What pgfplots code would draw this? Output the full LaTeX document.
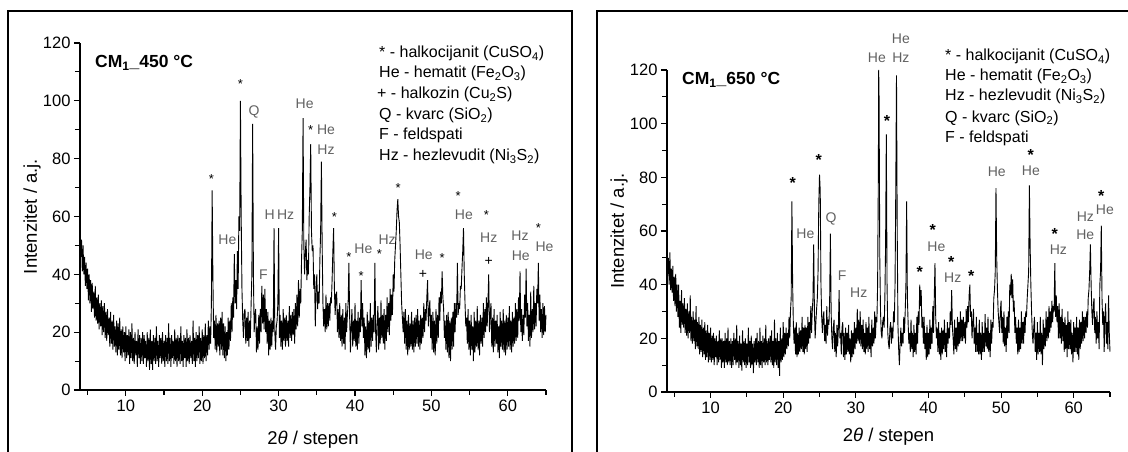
\documentclass[border=0pt]{standalone}
\usepackage{fontspec}
\setmainfont{Liberation Sans}
\usepackage{pgfplots}
\pgfplotsset{compat=1.18}
\pgfplotsset{xrd/.style={
  scale only axis, axis lines*=left,
  xmin=4, xmax=65, ymin=0, ymax=120, enlargelimits=false,
  xtick={10,20,...,60}, minor xtick={5,15,...,65},
  ytick={0,20,...,120}, minor ytick={10,30,...,110},
  tick align=outside, major tick length=6pt, minor tick length=5pt,
  every tick/.style={black, line width=1.1pt},
  every minor tick/.style={black, line width=1.1pt},
  axis line style={line width=1.4pt},
  tick label style={font=\fontsize{16.5}{16.5}\selectfont},
  /pgf/number format/assume math mode=true,
  label style={font=\fontsize{18.5}{18.5}\selectfont},
  xlabel={2\textit{θ} / stepen}, ylabel={Intenzitet / a.j.},
  clip=false}}
\tikzset{
  an/.style={text=black!62, font=\fontsize{14}{14}\selectfont, inner sep=0},
  sl/.style={text=black, font=\fontsize{13}{13}\selectfont, inner sep=0, yshift=-3pt},
  sr/.style={text=black, font=\bfseries\fontsize{16}{16}\selectfont, inner sep=0, yshift=-3pt},
  dat/.style={black, line width=0.9pt, line join=bevel},
}
\pgfplotstableset{col sep=space}
\begin{document}
\begin{tikzpicture}[x=1pt,y=1pt]
\path[use as bounding box] (0,0) rectangle (1128,452);
\draw[line width=1.2pt] (8,-3) -- (8,441) -- (572,441) -- (572,-3);
\draw[line width=1.2pt] (597,-3) -- (597,441) -- (1132,441);

\begin{axis}[xrd, at={(80pt,62pt)}, anchor=south west, width=466pt, height=347pt,
  xlabel style={at={(axis description cs:0.5,-0.144)}, anchor=center},
  ylabel style={at={(axis description cs:-0.103,0.5)}, anchor=center}]
\addplot[dat] coordinates {
(4.0,56)(4.1,46)(4.2,52)(4.3,41)(4.4,50)(4.5,40)(4.6,46)(4.7,36)(4.8,44)(4.9,35)
(5.0,42)(5.1,31)(5.2,40)(5.3,30)(5.4,38)(5.5,27)(5.6,37)(5.7,28)(5.8,34)(5.9,25)
(6.0,36)(6.1,24)(6.2,32)(6.3,23)(6.4,33)(6.5,21)(6.6,30)(6.7,22)(6.8,31)(6.9,19)
(7.0,29)(7.1,20)(7.2,30)(7.3,18)(7.4,27)(7.5,17)(7.6,28)(7.7,19)(7.8,25)(7.9,15)
(8.0,27)(8.1,16)(8.2,24)(8.3,14)(8.4,26)(8.5,15)(8.6,22)(8.7,13)(8.8,24)(8.9,12)
(9.0,23)(9.1,14)(9.2,25)(9.3,12)(9.4,21)(9.5,11)(9.6,22)(9.7,13)(9.8,20)(9.9,10)
(10.0,22)(10.1,11)(10.2,19)(10.3,12)(10.4,21)(10.5,9)(10.6,20)(10.7,11)(10.8,23)(10.9,10)
(11.0,18)(11.1,9)(11.2,20)(11.3,12)(11.4,17)(11.5,8)(11.6,21)(11.7,11)(11.8,19)(11.9,9)
(12.0,18)(12.1,10)(12.2,20)(12.3,9)(12.4,19)(12.5,11)(12.6,17)(12.7,8)(12.8,20)(12.9,10)
(13.0,18)(13.1,7)(13.2,21)(13.3,9)(13.4,17)(13.5,7)(13.6,19)(13.7,10)(13.8,18)(13.9,9)
(14.0,22)(14.1,10)(14.2,17)(14.3,8)(14.4,19)(14.5,11)(14.6,18)(14.7,9)(14.8,20)(14.9,10)
(15.0,17)(15.1,8)(15.2,19)(15.3,10)(15.4,18)(15.5,9)(15.6,23)(15.7,10)(15.8,18)(15.9,8)
(16.0,19)(16.1,11)(16.2,17)(16.3,9)(16.4,21)(16.5,10)(16.6,18)(16.7,8)(16.8,19)(16.9,10)
(17.0,18)(17.1,9)(17.2,22)(17.3,10)(17.4,17)(17.5,8)(17.6,19)(17.7,11)(17.8,18)(17.9,8)
(18.0,21)(18.1,10)(18.2,18)(18.3,9)(18.4,19)(18.5,11)(18.6,17)(18.7,9)(18.8,24)(18.9,10)
(19.0,18)(19.1,8)(19.2,20)(19.3,10)(19.4,19)(19.5,11)(19.6,22)(19.7,9)(19.8,18)(19.9,10)
(20.0,21)(20.1,9)(20.2,19)(20.3,11)(20.4,23)(20.5,10)(20.6,19)(20.7,12)(20.8,24)(20.9,14)
(21.0,22)(21.1,16)(21.2,30)(21.3,69)(21.4,38)(21.5,18)(21.6,24)(21.7,14)(21.8,26)(21.9,13)
(22.0,23)(22.1,15)(22.2,24)(22.3,12)(22.4,25)(22.5,14)(22.6,27)(22.7,12)(22.8,23)(22.9,11)
(23.0,22)(23.1,10)(23.2,20)(23.3,12)(23.4,25)(23.5,14)(23.6,24)(23.7,17)(23.8,30)(23.9,20)
(24.0,32)(24.1,25)(24.2,47)(24.3,30)(24.4,38)(24.5,28)(24.6,48)(24.7,35)(24.8,60)(24.9,55)
(25.0,100)(25.1,60)(25.2,35)(25.3,24)(25.4,18)(25.5,27)(25.6,28)(25.7,16)(25.8,25)(25.9,17)
(26.0,27)(26.1,15)(26.2,24)(26.3,18)(26.4,30)(26.5,40)(26.6,92)(26.7,40)(26.8,20)(26.9,26)
(27.0,28)(27.1,13)(27.2,22)(27.3,14)(27.4,26)(27.5,16)(27.6,28)(27.7,20)(27.8,36)(27.9,23)
(28.0,33)(28.1,21)(28.2,35)(28.3,20)(28.4,28)(28.5,16)(28.6,27)(28.7,12)(28.8,24)(28.9,14)
(29.0,25)(29.1,15)(29.2,24)(29.3,20)(29.4,56)(29.5,20)(29.6,14)(29.7,22)(29.8,24)(29.9,30)
(30.0,56)(30.1,18)(30.2,26)(30.3,15)(30.4,24)(30.5,14)(30.6,28)(30.7,17)(30.8,25)(30.9,15)
(31.0,26)(31.1,17)(31.2,24)(31.3,15)(31.4,29)(31.5,18)(31.6,26)(31.7,17)(31.8,27)(31.9,19)
(32.0,28)(32.1,16)(32.2,30)(32.3,21)(32.4,33)(32.5,22)(32.6,38)(32.7,25)(32.8,35)(32.9,30)
(33.0,45)(33.1,55)(33.2,94)(33.3,50)(33.4,40)(33.5,48)(33.6,52)(33.7,38)(33.8,45)(33.9,40)
(34.0,60)(34.1,70)(34.2,85)(34.3,55)(34.4,48)(34.5,50)(34.6,35)(34.7,40)(34.8,22)(34.9,35)
(35.0,40)(35.1,28)(35.2,34)(35.3,30)(35.4,45)(35.5,55)(35.6,79)(35.7,50)(35.8,30)(35.9,22)
(36.0,28)(36.1,20)(36.2,33)(36.3,21)(36.4,30)(36.5,22)(36.6,30)(36.7,24)(36.8,32)(36.9,30)
(37.0,38)(37.1,48)(37.2,56)(37.3,35)(37.4,26)(37.5,33)(37.6,34)(37.7,20)(37.8,28)(37.9,18)
(38.0,30)(38.1,17)(38.2,26)(38.3,15)(38.4,28)(38.5,16)(38.6,25)(38.7,14)(38.8,30)(38.9,20)
(39.0,26)(39.1,30)(39.2,44)(39.3,25)(39.4,13)(39.5,22)(39.6,28)(39.7,15)(39.8,24)(39.9,17)
(40.0,30)(40.1,15)(40.2,24)(40.3,14)(40.4,27)(40.5,16)(40.6,25)(40.7,20)(40.8,38)(40.9,22)
(41.0,30)(41.1,18)(41.2,25)(41.3,12)(41.4,22)(41.5,11)(41.6,27)(41.7,14)(41.8,24)(41.9,13)
(42.0,30)(42.1,15)(42.2,25)(42.3,17)(42.4,26)(42.5,20)(42.6,44)(42.7,20)(42.8,13)(42.9,24)
(43.0,29)(43.1,14)(43.2,25)(43.3,16)(43.4,31)(43.5,18)(43.6,26)(43.7,16)(43.8,28)(43.9,14)
(44.0,26)(44.1,17)(44.2,32)(44.3,20)(44.4,30)(44.5,19)(44.6,35)(44.7,24)(44.8,33)(44.9,26)
(45.0,40)(45.1,34)(45.2,45)(45.3,50)(45.4,55)(45.5,62)(45.6,66)(45.7,60)(45.8,58)(45.9,50)
(46.0,40)(46.1,30)(46.2,25)(46.3,20)(46.4,27)(46.5,16)(46.6,28)(46.7,14)(46.8,24)(46.9,12)
(47.0,26)(47.1,14)(47.2,23)(47.3,15)(47.4,27)(47.5,14)(47.6,24)(47.7,13)(47.8,25)(47.9,15)
(48.0,26)(48.1,16)(48.2,28)(48.3,15)(48.4,24)(48.5,14)(48.6,26)(48.7,16)(48.8,25)(48.9,18)
(49.0,30)(49.1,20)(49.2,28)(49.3,24)(49.4,32)(49.5,38)(49.6,22)(49.7,28)(49.8,31)(49.9,18)
(50.0,26)(50.1,14)(50.2,27)(50.3,13)(50.4,24)(50.5,12)(50.6,28)(50.7,16)(50.8,26)(50.9,18)
(51.0,32)(51.1,24)(51.2,34)(51.3,30)(51.4,41)(51.5,32)(51.6,28)(51.7,18)(51.8,24)(51.9,14)
(52.0,26)(52.1,13)(52.2,27)(52.3,11)(52.4,24)(52.5,10)(52.6,25)(52.7,14)(52.8,27)(52.9,15)
(53.0,30)(53.1,20)(53.2,30)(53.3,25)(53.4,44)(53.5,26)(53.6,30)(53.7,28)(53.8,36)(53.9,35)
(54.0,42)(54.1,48)(54.2,56)(54.3,40)(54.4,30)(54.5,22)(54.6,25)(54.7,16)(54.8,28)(54.9,14)
(55.0,24)(55.1,12)(55.2,26)(55.3,14)(55.4,22)(55.5,10)(55.6,27)(55.7,13)(55.8,24)(55.9,15)
(56.0,29)(56.1,14)(56.2,24)(56.3,12)(56.4,26)(56.5,16)(56.6,25)(56.7,15)(56.8,30)(56.9,18)
(57.0,28)(57.1,20)(57.2,32)(57.3,22)(57.4,30)(57.5,40)(57.6,20)(57.7,26)(57.8,30)(57.9,15)
(58.0,25)(58.1,13)(58.2,28)(58.3,15)(58.4,24)(58.5,16)(58.6,26)(58.7,13)(58.8,22)(58.9,11)
(59.0,27)(59.1,15)(59.2,24)(59.3,14)(59.4,28)(59.5,13)(59.6,24)(59.7,12)(59.8,26)(59.9,14)
(60.0,25)(60.1,15)(60.2,29)(60.3,14)(60.4,24)(60.5,13)(60.6,27)(60.7,15)(60.8,25)(60.9,16)
(61.0,30)(61.1,17)(61.2,28)(61.3,18)(61.4,32)(61.5,24)(61.6,41)(61.7,20)(61.8,28)(61.9,17)
(62.0,26)(62.1,19)(62.2,33)(62.3,25)(62.4,42)(62.5,22)(62.6,30)(62.7,17)(62.8,26)(62.9,15)
(63.0,34)(63.1,18)(63.2,28)(63.3,20)(63.4,36)(63.5,21)(63.6,30)(63.7,22)(63.8,35)(63.9,30)
(64.0,44)(64.1,24)(64.2,33)(64.3,20)(64.4,28)(64.5,18)(64.6,30)(64.7,19)(64.8,29)(64.9,20)
(65.0,26)
};
\node[sl] at (axis cs:21.2,74) {*};
\node[an] at (axis cs:23.3,52) {He};
\node[sl] at (axis cs:25.0,107) {*};
\node[an] at (axis cs:26.8,96) {Q};
\node[an] at (axis cs:28.0,40) {F};
\node[an] at (axis cs:30.1,60.5) {H\,Hz};
\node[an] at (axis cs:33.4,99) {He};
\node[sl] at (axis cs:34.2,91) {*};
\node[an] at (axis cs:36.2,90) {He};
\node[an] at (axis cs:36.2,83) {Hz};
\node[sl] at (axis cs:37.3,61) {*};
\node[sl] at (axis cs:39.2,47) {*};
\node[an] at (axis cs:41.1,49) {He};
\node[sl] at (axis cs:40.8,40.5) {*};
\node[sl] at (axis cs:43.2,48) {*};
\node[an] at (axis cs:44.2,52) {Hz};
\node[sl] at (axis cs:45.65,71) {*};
\node[an] at (axis cs:49.0,46.7) {He};
\node[an, text=black] at (axis cs:48.9,40) {+};
\node[sl] at (axis cs:51.4,46.7) {*};
\node[sl] at (axis cs:53.5,68) {*};
\node[an] at (axis cs:54.25,60.5) {He};
\node[sl] at (axis cs:57.2,61.6) {*};
\node[an] at (axis cs:57.5,52.6) {Hz};
\node[an, text=black] at (axis cs:57.5,44.6) {+};
\node[an] at (axis cs:61.6,53.5) {Hz};
\node[an] at (axis cs:61.7,46.5) {He};
\node[sl] at (axis cs:64.0,57) {*};
\node[an] at (axis cs:64.8,49.5) {He};
\end{axis}

\begin{axis}[xrd, at={(667pt,60pt)}, anchor=south west, width=443pt, height=322pt,
  xlabel style={at={(axis description cs:0.5,-0.140)}, anchor=center},
  ylabel style={at={(axis description cs:-0.108,0.5)}, anchor=center}]
\addplot[dat] coordinates {
(4.0,58)(4.1,44)(4.2,50)(4.3,40)(4.4,52)(4.5,38)(4.6,46)(4.7,37)(4.8,47)(4.9,34)
(5.0,43)(5.1,32)(5.2,44)(5.3,30)(5.4,40)(5.5,28)(5.6,40)(5.7,24)(5.8,34)(5.9,22)
(6.0,38)(6.1,25)(6.2,33)(6.3,24)(6.4,35)(6.5,22)(6.6,31)(6.7,21)(6.8,33)(6.9,20)
(7.0,30)(7.1,22)(7.2,36)(7.3,19)(7.4,28)(7.5,18)(7.6,30)(7.7,19)(7.8,27)(7.9,16)
(8.0,32)(8.1,17)(8.2,26)(8.3,16)(8.4,28)(8.5,14)(8.6,25)(8.7,15)(8.8,27)(8.9,13)
(9.0,24)(9.1,14)(9.2,26)(9.3,12)(9.4,23)(9.5,13)(9.6,25)(9.7,11)(9.8,22)(9.9,12)
(10.0,24)(10.1,11)(10.2,21)(10.3,12)(10.4,22)(10.5,10)(10.6,20)(10.7,13)(10.8,21)(10.9,10)
(11.0,19)(11.1,11)(11.2,23)(11.3,12)(11.4,20)(11.5,9)(11.6,20)(11.7,11)(11.8,19)(11.9,9)
(12.0,22)(12.1,11)(12.2,20)(12.3,10)(12.4,24)(12.5,11)(12.6,19)(12.7,10)(12.8,20)(12.9,9)
(13.0,19)(13.1,10)(13.2,22)(13.3,12)(13.4,20)(13.5,10)(13.6,25)(13.7,11)(13.8,19)(13.9,9)
(14.0,21)(14.1,10)(14.2,18)(14.3,8)(14.4,23)(14.5,11)(14.6,19)(14.7,10)(14.8,20)(14.9,9)
(15.0,18)(15.1,10)(15.2,24)(15.3,11)(15.4,19)(15.5,9)(15.6,21)(15.7,10)(15.8,18)(15.9,7)
(16.0,19)(16.1,11)(16.2,20)(16.3,10)(16.4,22)(16.5,11)(16.6,19)(16.7,9)(16.8,24)(16.9,10)
(17.0,19)(17.1,9)(17.2,21)(17.3,11)(17.4,20)(17.5,10)(17.6,25)(17.7,11)(17.8,19)(17.9,10)
(18.0,20)(18.1,12)(18.2,21)(18.3,11)(18.4,23)(18.5,10)(18.6,19)(18.7,9)(18.8,27)(18.9,11)
(19.0,20)(19.1,10)(19.2,22)(19.3,9)(19.4,19)(19.5,6)(19.6,24)(19.7,11)(19.8,20)(19.9,12)
(20.0,26)(20.1,13)(20.2,22)(20.3,14)(20.4,24)(20.5,16)(20.6,22)(20.7,17)(20.8,28)(20.9,20)
(21.0,30)(21.1,35)(21.2,71)(21.3,40)(21.4,25)(21.5,18)(21.6,24)(21.7,14)(21.8,26)(21.9,13)
(22.0,22)(22.1,14)(22.2,24)(22.3,15)(22.4,23)(22.5,16)(22.6,28)(22.7,15)(22.8,24)(22.9,14)
(23.0,25)(23.1,16)(23.2,24)(23.3,15)(23.4,28)(23.5,18)(23.6,26)(23.7,20)(23.8,32)(23.9,22)
(24.0,30)(24.1,35)(24.2,55)(24.3,30)(24.4,20)(24.5,26)(24.6,31)(24.7,35)(24.8,45)(24.9,70)
(25.0,81)(25.1,75)(25.2,40)(25.3,28)(25.4,22)(25.5,28)(25.6,30)(25.7,19)(25.8,25)(25.9,18)
(26.0,32)(26.1,21)(26.2,27)(26.3,25)(26.4,35)(26.5,59)(26.6,30)(26.7,20)(26.8,16)(26.9,24)
(27.0,27)(27.1,15)(27.2,22)(27.3,13)(27.4,25)(27.5,17)(27.6,24)(27.7,38)(27.8,20)(27.9,22)
(28.0,14)(28.1,24)(28.2,26)(28.3,13)(28.4,22)(28.5,12)(28.6,24)(28.7,14)(28.8,22)(28.9,15)
(29.0,25)(29.1,14)(29.2,20)(29.3,11)(29.4,23)(29.5,13)(29.6,22)(29.7,14)(29.8,26)(29.9,16)
(30.0,24)(30.1,18)(30.2,31)(30.3,19)(30.4,27)(30.5,18)(30.6,30)(30.7,17)(30.8,25)(30.9,16)
(31.0,27)(31.1,15)(31.2,22)(31.3,14)(31.4,26)(31.5,16)(31.6,24)(31.7,15)(31.8,28)(31.9,16)
(32.0,22)(32.1,13)(32.2,27)(32.3,17)(32.4,24)(32.5,18)(32.6,30)(32.7,20)(32.8,28)(32.9,26)
(33.0,40)(33.1,80)(33.15,120)(33.2,110)(33.3,50)(33.4,30)(33.5,22)(33.6,20)(33.7,26)(33.8,28)(33.9,24)
(34.0,35)(34.1,55)(34.2,96)(34.3,40)(34.4,22)(34.5,18)(34.6,16)(34.7,24)(34.8,26)(34.9,18)
(35.0,24)(35.1,20)(35.2,30)(35.3,26)(35.4,40)(35.5,75)(35.6,118)(35.7,60)(35.8,25)(35.9,16)
(36.0,10)(36.1,18)(36.2,24)(36.3,17)(36.4,22)(36.5,18)(36.6,28)(36.7,22)(36.8,30)(36.9,40)
(37.0,71)(37.1,35)(37.2,26)(37.3,18)(37.4,22)(37.5,15)(37.6,27)(37.7,16)(37.8,22)(37.9,13)
(38.0,25)(38.1,15)(38.2,22)(38.3,14)(38.4,28)(38.5,18)(38.6,30)(38.7,25)(38.8,40)(38.9,32)
(39.0,38)(39.1,24)(39.2,28)(39.3,18)(39.4,28)(39.5,16)(39.6,22)(39.7,12)(39.8,25)(39.9,13)
(40.0,22)(40.1,14)(40.2,27)(40.3,16)(40.4,24)(40.5,18)(40.6,32)(40.7,22)(40.8,35)(40.9,48)
(41.0,28)(41.1,20)(41.2,24)(41.3,15)(41.4,26)(41.5,14)(41.6,22)(41.7,12)(41.8,24)(41.9,14)
(42.0,23)(42.1,16)(42.2,27)(42.3,15)(42.4,22)(42.5,13)(42.6,26)(42.7,18)(42.8,24)(42.9,20)
(43.0,30)(43.1,25)(43.2,38)(43.3,24)(43.4,20)(43.5,14)(43.6,27)(43.7,16)(43.8,24)(43.9,15)
(44.0,28)(44.1,17)(44.2,26)(44.3,18)(44.4,30)(44.5,19)(44.6,27)(44.7,19)(44.8,28)(44.9,20)
(45.0,26)(45.1,18)(45.2,31)(45.3,24)(45.4,32)(45.5,26)(45.6,36)(45.7,40)(45.8,28)(45.9,30)
(46.0,20)(46.1,26)(46.2,31)(46.3,18)(46.4,24)(46.5,15)(46.6,28)(46.7,15)(46.8,22)(46.9,14)
(47.0,27)(47.1,14)(47.2,22)(47.3,12)(47.4,26)(47.5,15)(47.6,22)(47.7,15)(47.8,29)(47.9,17)
(48.0,24)(48.1,16)(48.2,28)(48.3,15)(48.4,22)(48.5,13)(48.6,27)(48.7,18)(48.8,26)(48.9,24)
(49.0,35)(49.1,38)(49.2,45)(49.3,76)(49.4,50)(49.5,38)(49.6,30)(49.7,26)(49.8,22)(49.9,30)
(50.0,34)(50.1,22)(50.2,28)(50.3,18)(50.4,30)(50.5,17)(50.6,24)(50.7,15)(50.8,28)(50.9,20)
(51.0,30)(51.1,22)(51.2,40)(51.3,36)(51.4,44)(51.5,35)(51.6,42)(51.7,30)(51.8,34)(51.9,22)
(52.0,28)(52.1,18)(52.2,24)(52.3,14)(52.4,27)(52.5,15)(52.6,24)(52.7,16)(52.8,30)(52.9,18)
(53.0,26)(53.1,18)(53.2,28)(53.3,22)(53.4,30)(53.5,28)(53.6,35)(53.7,40)(53.8,45)(53.9,77)
(54.0,55)(54.1,40)(54.2,30)(54.3,22)(54.4,18)(54.5,24)(54.6,28)(54.7,15)(54.8,22)(54.9,12)
(55.0,26)(55.1,14)(55.2,22)(55.3,15)(55.4,28)(55.5,14)(55.6,22)(55.7,10)(55.8,27)(55.9,16)
(56.0,24)(56.1,17)(56.2,30)(56.3,19)(56.4,28)(56.5,20)(56.6,32)(56.7,22)(56.8,30)(56.9,24)
(57.0,34)(57.1,26)(57.2,32)(57.3,30)(57.4,48)(57.5,28)(57.6,36)(57.7,26)(57.8,32)(57.9,20)
(58.0,33)(58.1,20)(58.2,28)(58.3,18)(58.4,31)(58.5,19)(58.6,26)(58.7,15)(58.8,28)(58.9,16)
(59.0,25)(59.1,13)(59.2,30)(59.3,16)(59.4,26)(59.5,16)(59.6,27)(59.7,14)(59.8,22)(59.9,11)
(60.0,26)(60.1,15)(60.2,24)(60.3,15)(60.4,28)(60.5,14)(60.6,24)(60.7,12)(60.8,27)(60.9,16)
(61.0,26)(61.1,18)(61.2,30)(61.3,19)(61.4,28)(61.5,20)(61.6,28)(61.7,22)(61.8,30)(61.9,24)
(62.0,35)(62.1,38)(62.2,45)(62.3,55)(62.4,40)(62.5,30)(62.6,25)(62.7,32)(62.8,35)(62.9,22)
(63.0,28)(63.1,18)(63.2,30)(63.3,20)(63.4,26)(63.5,16)(63.6,40)(63.7,45)(63.8,62)(63.9,35)
(64.0,25)(64.1,30)(64.2,15)(64.3,28)(64.4,33)(64.5,18)(64.6,26)(64.7,16)(64.8,36)(64.9,22)
(65.0,15)
};
\node[sr] at (axis cs:21.3,79) {*};
\node[an] at (axis cs:23.05,59) {He};
\node[sr] at (axis cs:24.9,87.7) {*};
\node[an] at (axis cs:26.6,64.4) {Q};
\node[an] at (axis cs:28.1,43.2) {F};
\node[an] at (axis cs:30.4,37) {Hz};
\node[an] at (axis cs:32.9,124.7) {He};
\node[an] at (axis cs:36.2,131.5) {He};
\node[an] at (axis cs:36.2,124.7) {Hz};
\node[sr] at (axis cs:34.3,102) {*};
\node[sr] at (axis cs:38.8,46) {*};
\node[sr] at (axis cs:40.6,61.5) {*};
\node[an] at (axis cs:41.1,54) {He};
\node[sr] at (axis cs:43.15,49.5) {*};
\node[an] at (axis cs:43.35,42.6) {Hz};
\node[sr] at (axis cs:45.9,44.4) {*};
\node[an] at (axis cs:49.4,82) {He};
\node[sr] at (axis cs:54.1,89.3) {*};
\node[an] at (axis cs:54.1,82.3) {He};
\node[sr] at (axis cs:57.4,60) {*};
\node[an] at (axis cs:57.9,53) {Hz};
\node[an] at (axis cs:61.6,65.5) {Hz};
\node[an] at (axis cs:61.6,58.6) {He};
\node[sr] at (axis cs:63.8,74) {*};
\node[an] at (axis cs:64.3,67.9) {He};
\end{axis}

% titles
\node[anchor=base west, inner sep=0, font=\bfseries\fontsize{17.5}{17.5}\selectfont] at (95,384) {CM\textsubscript{1}\textunderscore 450 °C};
\node[anchor=base west, inner sep=0, font=\bfseries\fontsize{17.5}{17.5}\selectfont] at (682,367.5) {CM\textsubscript{1}\textunderscore 650 °C};

% legends
\begin{scope}[every node/.style={anchor=base west, inner sep=0, font=\fontsize{16}{16}\selectfont}]
\node at (379,394.2) {* - halkocijanit (CuSO\textsubscript{4})};
\node at (379,374.2) {He - hematit (Fe\textsubscript{2}O\textsubscript{3})};
\node at (377,353.2) {+ - halkozin (Cu\textsubscript{2}S)};
\node at (379,332.5) {Q - kvarc (SiO\textsubscript{2})};
\node at (379,312.5) {F - feldspati};
\node at (379,291.5) {Hz - hezlevudit (Ni\textsubscript{3}S\textsubscript{2})};
\node at (945,391.5) {* - halkocijanit (CuSO\textsubscript{4})};
\node at (945,371.5) {He - hematit (Fe\textsubscript{2}O\textsubscript{3})};
\node at (945,351.5) {Hz - hezlevudit (Ni\textsubscript{3}S\textsubscript{2})};
\node at (945,329.8) {Q - kvarc (SiO\textsubscript{2})};
\node at (945,309.8) {F - feldspati};
\end{scope}
\end{tikzpicture}
\end{document}
